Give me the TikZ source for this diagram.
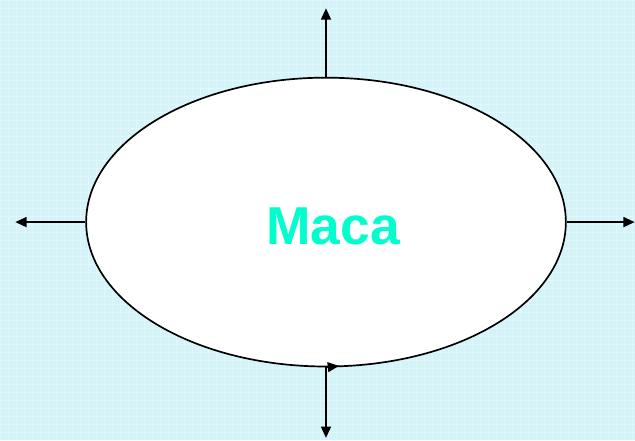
\documentclass[tikz,border=0pt]{standalone}
\usepackage{fontspec}
\setmainfont{Liberation Sans}
\usetikzlibrary{shapes.geometric, arrows.meta, positioning}
\definecolor{bgcyan}{RGB}{212,244,250}
\definecolor{macatext}{RGB}{0,255,204}
\tikzstyle{arrow} = [line width=1.4pt, -{Triangle[length=8pt, width=7pt]}]

\begin{document}
\begin{tikzpicture}[x=0.025cm, y=-0.025cm]

\tikzstyle{centrenode} = [ellipse, draw, line width=1.2pt, fill=white, minimum width=12cm, minimum height=7.225cm, text centered]
\tikzstyle{labeltext} = [font=\fontsize{38}{42}\selectfont\bfseries, text=macatext]

% Background
\fill[bgcyan] (0,0) rectangle (635,440);
\draw[white, opacity=0.35, step=0.2cm] (0,0) grid (635,440);
\useasboundingbox (0,0) rectangle (635,440);

% Nodes
\node (maca) [centrenode] at (326,222) {};
\node (label) [labeltext] at (333,226) {Maca};
\coordinate (top) at (326,8);
\coordinate (left) at (15,222);
\coordinate (right) at (635,222);
\coordinate (bottom) at (326,438);
\coordinate (rim) at (339,366);

% Arrows
\draw [arrow] (maca.north) -- (top);
\draw [arrow] (maca.west) -- (left);
\draw [arrow] (maca.east) -- (right);
\draw [arrow] (maca.south) -- (bottom);
\draw [arrow, line width=1pt] (maca.south) -- (rim);

\end{tikzpicture}
\end{document}
